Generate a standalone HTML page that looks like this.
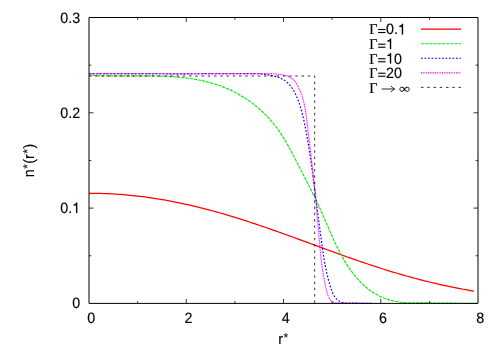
<!DOCTYPE html>
<html><head><meta charset="utf-8"><title>plot</title>
<style>
html,body{margin:0;padding:0;background:#fff;}
svg{display:block;}
text{font-family:"Liberation Sans",sans-serif;font-size:14.3px;fill:#000;text-rendering:geometricPrecision;stroke:#000;stroke-width:0.16px;}
.sym{font-family:"Liberation Serif",serif;font-size:14.3px;}
</style></head><body>
<svg width="500" height="350" viewBox="0 0 500 350">
<rect width="500" height="350" fill="#fff"/>
<g fill="none" stroke-width="1.15" stroke-linejoin="round">
<path d="M89.00,193.25 L91.43,193.26 L93.86,193.28 L96.29,193.32 L98.72,193.37 L101.16,193.43 L103.59,193.51 L106.02,193.60 L108.45,193.71 L110.88,193.83 L113.31,193.96 L115.74,194.11 L118.18,194.27 L120.61,194.45 L123.04,194.64 L125.47,194.85 L127.90,195.07 L130.33,195.30 L132.76,195.54 L135.19,195.80 L137.62,196.08 L140.06,196.37 L142.49,196.67 L144.92,196.98 L147.35,197.31 L149.78,197.65 L152.21,198.01 L154.64,198.38 L157.07,198.76 L159.51,199.15 L161.94,199.56 L164.37,199.98 L166.80,200.42 L169.23,200.86 L171.66,201.32 L174.09,201.80 L176.53,202.28 L178.96,202.78 L181.39,203.29 L183.82,203.81 L186.25,204.35 L188.68,204.89 L191.11,205.45 L193.54,206.02 L195.98,206.60 L198.41,207.19 L200.84,207.80 L203.27,208.41 L205.70,209.04 L208.13,209.68 L210.56,210.32 L212.99,210.98 L215.43,211.65 L217.86,212.33 L220.29,213.02 L222.72,213.72 L225.15,214.43 L227.58,215.14 L230.01,215.87 L232.44,216.61 L234.88,217.35 L237.31,218.11 L239.74,218.87 L242.17,219.64 L244.60,220.42 L247.03,221.20 L249.46,222.00 L251.89,222.80 L254.33,223.60 L256.76,224.42 L259.19,225.24 L261.62,226.07 L264.05,226.90 L266.48,227.74 L268.91,228.58 L271.34,229.43 L273.77,230.29 L276.21,231.15 L278.64,232.01 L281.07,232.88 L283.50,233.75 L285.93,234.62 L288.36,235.50 L290.79,236.38 L293.23,237.27 L295.66,238.15 L298.09,239.04 L300.52,239.93 L302.95,240.82 L305.38,241.71 L307.81,242.60 L310.24,243.50 L312.68,244.39 L315.11,245.28 L317.54,246.17 L319.97,247.07 L322.40,247.96 L324.83,248.85 L327.26,249.73 L329.69,250.62 L332.12,251.50 L334.56,252.38 L336.99,253.26 L339.42,254.14 L341.85,255.01 L344.28,255.88 L346.71,256.74 L349.14,257.60 L351.58,258.45 L354.01,259.30 L356.44,260.15 L358.87,260.99 L361.30,261.82 L363.73,262.65 L366.16,263.47 L368.59,264.28 L371.03,265.09 L373.46,265.89 L375.89,266.69 L378.32,267.47 L380.75,268.25 L383.18,269.02 L385.61,269.79 L388.04,270.54 L390.48,271.29 L392.91,272.03 L395.34,272.76 L397.77,273.48 L400.20,274.19 L402.63,274.89 L405.06,275.59 L407.49,276.27 L409.93,276.95 L412.36,277.61 L414.79,278.27 L417.22,278.92 L419.65,279.55 L422.08,280.18 L424.51,280.79 L426.94,281.40 L429.38,282.00 L431.81,282.58 L434.24,283.16 L436.67,283.72 L439.10,284.28 L441.53,284.82 L443.96,285.35 L446.39,285.88 L448.83,286.39 L451.26,286.90 L453.69,287.39 L456.12,287.87 L458.55,288.34 L460.98,288.81 L463.41,289.26 L465.84,289.70 L468.28,290.13 L470.71,290.56 L474.01,291.12" stroke="#ff0000" stroke-width="1.25"/>
<path d="M89.00,75.13 L90.48,75.22 L91.91,75.31 L93.35,75.39 L94.79,75.46 L96.23,75.53 L97.67,75.59 L99.12,75.65 L100.57,75.70 L102.03,75.74 L103.49,75.78 L104.95,75.81 L106.41,75.84 L107.88,75.86 L109.35,75.88 L110.82,75.90 L112.30,75.91 L113.78,75.92 L115.26,75.93 L116.74,75.93 L118.22,75.93 L119.71,75.93 L121.20,75.93 L122.69,75.93 L124.18,75.92 L125.67,75.91 L127.17,75.91 L128.67,75.90 L130.17,75.89 L131.66,75.88 L133.17,75.87 L134.67,75.87 L136.17,75.86 L137.67,75.85 L139.18,75.85 L140.68,75.85 L142.19,75.85 L143.69,75.85 L145.20,75.85 L146.71,75.86 L148.21,75.87 L149.72,75.88 L151.23,75.90 L152.73,75.92 L154.24,75.95 L155.74,75.98 L157.25,76.01 L158.75,76.05 L160.26,76.09 L161.76,76.14 L163.26,76.20 L164.77,76.26 L166.27,76.33 L167.77,76.40 L169.26,76.49 L170.76,76.58 L172.25,76.67 L173.75,76.78 L175.24,76.89 L176.73,77.01 L178.22,77.14 L179.70,77.27 L181.19,77.42 L182.67,77.58 L184.15,77.74 L185.62,77.92 L187.10,78.10 L188.57,78.30 L190.04,78.51 L191.51,78.73 L192.97,78.95 L194.43,79.20 L195.89,79.45 L197.34,79.71 L198.79,79.99 L200.24,80.28 L201.68,80.58 L203.12,80.90 L204.56,81.23 L205.99,81.57 L207.42,81.93 L208.84,82.30 L210.26,82.69 L211.68,83.09 L213.09,83.51 L214.50,83.94 L215.90,84.38 L217.30,84.85 L218.69,85.33 L220.08,85.82 L221.46,86.34 L222.84,86.87 L224.21,87.41 L225.58,87.97 L226.94,88.55 L228.30,89.15 L229.64,89.76 L230.99,90.39 L232.32,91.03 L233.65,91.69 L234.97,92.36 L236.28,93.06 L237.59,93.76 L238.88,94.48 L240.17,95.22 L241.45,95.97 L242.73,96.74 L243.99,97.52 L245.24,98.32 L246.49,99.13 L247.72,99.96 L248.95,100.80 L250.16,101.66 L251.36,102.53 L252.56,103.41 L253.74,104.31 L254.91,105.23 L256.07,106.15 L257.22,107.10 L258.36,108.05 L259.48,109.02 L260.59,110.01 L261.69,111.00 L262.78,112.01 L263.86,113.04 L264.92,114.07 L265.97,115.12 L267.00,116.19 L268.02,117.26 L269.03,118.35 L270.02,119.46 L271.00,120.57 L271.96,121.70 L272.90,122.84 L273.84,123.99 L274.75,125.16 L275.66,126.33 L276.55,127.52 L277.42,128.72 L278.28,129.93 L279.13,131.15 L279.97,132.37 L280.80,133.61 L281.61,134.86 L282.42,136.11 L283.21,137.37 L283.99,138.64 L284.77,139.92 L285.53,141.20 L286.29,142.48 L287.04,143.78 L287.78,145.08 L288.52,146.38 L289.24,147.69 L289.96,149.00 L290.68,150.31 L291.39,151.63 L292.09,152.95 L292.79,154.27 L293.49,155.60 L294.18,156.92 L294.87,158.25 L295.56,159.58 L296.25,160.90 L296.93,162.23 L297.61,163.55 L298.29,164.88 L298.97,166.20 L299.65,167.52 L300.33,168.84 L301.01,170.16 L301.69,171.48 L302.36,172.80 L303.04,174.11 L303.71,175.43 L304.39,176.75 L305.06,178.06 L305.73,179.38 L306.40,180.69 L307.06,182.01 L307.73,183.33 L308.39,184.64 L309.05,185.96 L309.71,187.28 L310.37,188.59 L311.03,189.91 L311.68,191.23 L312.33,192.55 L312.98,193.88 L313.63,195.20 L314.27,196.53 L314.92,197.85 L315.56,199.18 L316.19,200.52 L316.83,201.85 L317.46,203.18 L318.09,204.52 L318.71,205.86 L319.34,207.20 L319.96,208.55 L320.57,209.90 L321.19,211.25 L321.80,212.61 L322.41,213.96 L323.01,215.32 L323.61,216.69 L324.21,218.05 L324.81,219.42 L325.40,220.79 L326.00,222.17 L326.59,223.54 L327.19,224.91 L327.78,226.29 L328.38,227.66 L328.97,229.04 L329.57,230.41 L330.17,231.78 L330.77,233.16 L331.38,234.53 L331.99,235.90 L332.60,237.26 L333.22,238.63 L333.84,239.99 L334.46,241.35 L335.10,242.71 L335.73,244.06 L336.38,245.41 L337.03,246.75 L337.69,248.09 L338.35,249.42 L339.03,250.75 L339.71,252.07 L340.40,253.39 L341.10,254.70 L341.81,256.00 L342.54,257.30 L343.27,258.59 L344.01,259.87 L344.77,261.14 L345.53,262.41 L346.31,263.67 L347.10,264.91 L347.91,266.15 L348.73,267.38 L349.56,268.60 L350.41,269.81 L351.27,271.01 L352.15,272.19 L353.05,273.37 L353.96,274.53 L354.89,275.69 L355.83,276.83 L356.79,277.95 L357.77,279.06 L358.77,280.16 L359.78,281.24 L360.81,282.30 L361.86,283.35 L362.93,284.37 L364.01,285.37 L365.11,286.36 L366.23,287.32 L367.36,288.26 L368.52,289.17 L369.69,290.06 L370.87,290.92 L372.08,291.76 L373.30,292.57 L374.54,293.35 L375.80,294.10 L377.08,294.82 L378.38,295.51 L379.69,296.16 L381.02,296.79 L382.37,297.37 L383.73,297.93 L385.12,298.45 L386.51,298.94 L387.92,299.40 L389.34,299.83 L390.78,300.23 L392.23,300.59 L393.68,300.93 L395.15,301.24 L396.62,301.52 L398.10,301.78 L399.59,302.01 L401.09,302.21 L402.58,302.39 L404.09,302.54 L405.59,302.66 L407.10,302.77 L408.60,302.84 L410.11,302.90 L411.62,302.94 L413.12,302.95 L414.62,302.94 L416.12,302.91 L417.61,302.87 L419.10,302.80 L478.00,303.45" stroke="#00f000" stroke-dasharray="3.2 1"/>
<path d="M89.00,73.60 L90.46,73.60 L91.92,73.60 L93.38,73.60 L94.84,73.60 L96.29,73.60 L97.75,73.60 L99.21,73.60 L100.66,73.60 L102.12,73.60 L103.58,73.60 L105.03,73.60 L106.49,73.60 L107.94,73.60 L109.40,73.60 L110.85,73.60 L112.31,73.60 L113.76,73.60 L115.22,73.60 L116.67,73.60 L118.12,73.60 L119.58,73.60 L121.03,73.60 L122.48,73.60 L123.94,73.60 L125.39,73.60 L126.84,73.60 L128.29,73.60 L129.75,73.60 L131.20,73.60 L132.65,73.60 L134.10,73.60 L135.55,73.60 L137.01,73.60 L138.46,73.60 L139.91,73.60 L141.36,73.60 L142.81,73.60 L144.26,73.60 L145.71,73.60 L147.17,73.60 L148.62,73.60 L150.07,73.60 L151.52,73.61 L152.97,73.63 L154.42,73.65 L155.87,73.67 L157.32,73.70 L158.78,73.72 L160.23,73.73 L161.68,73.75 L163.13,73.77 L164.58,73.79 L166.04,73.80 L167.49,73.82 L168.94,73.83 L170.39,73.84 L171.84,73.85 L173.30,73.86 L174.75,73.87 L176.20,73.88 L177.66,73.88 L179.11,73.88 L180.56,73.88 L182.02,73.88 L183.47,73.88 L184.93,73.87 L186.38,73.86 L187.84,73.85 L189.29,73.84 L190.75,73.82 L192.20,73.80 L193.66,73.78 L195.11,73.76 L196.57,73.73 L198.03,73.70 L199.48,73.66 L200.94,73.63 L202.40,73.60 L203.86,73.60 L205.32,73.60 L206.78,73.60 L208.23,73.60 L209.69,73.60 L211.15,73.60 L212.61,73.60 L214.07,73.60 L215.53,73.60 L216.99,73.60 L218.45,73.60 L219.91,73.60 L221.37,73.60 L222.83,73.60 L224.28,73.60 L225.74,73.60 L227.20,73.60 L228.66,73.60 L230.12,73.60 L231.57,73.60 L233.03,73.60 L234.49,73.60 L235.94,73.60 L237.40,73.60 L238.85,73.60 L240.31,73.60 L241.76,73.60 L243.21,73.60 L244.67,73.60 L246.12,73.60 L247.57,73.60 L249.02,73.60 L250.47,73.60 L251.92,73.60 L253.37,73.60 L254.81,73.60 L256.26,73.60 L257.70,73.61 L259.15,73.76 L260.59,73.91 L262.03,74.07 L263.47,74.25 L264.91,74.44 L266.35,74.65 L267.78,74.87 L269.22,75.10 L270.65,75.35 L272.07,75.63 L273.49,75.94 L274.89,76.28 L276.27,76.66 L277.64,77.09 L278.98,77.56 L280.29,78.09 L281.58,78.68 L282.83,79.34 L284.05,80.07 L285.22,80.87 L286.36,81.75 L287.45,82.71 L288.50,83.74 L289.51,84.82 L290.47,85.95 L291.37,87.12 L292.23,88.32 L293.03,89.53 L293.78,90.77 L294.48,92.02 L295.14,93.29 L295.76,94.57 L296.35,95.87 L296.91,97.17 L297.45,98.50 L297.96,99.83 L298.46,101.17 L298.94,102.52 L299.40,103.88 L299.85,105.25 L300.28,106.62 L300.70,108.01 L301.10,109.40 L301.49,110.80 L301.87,112.20 L302.24,113.61 L302.59,115.02 L302.94,116.43 L303.27,117.85 L303.60,119.28 L303.92,120.70 L304.23,122.13 L304.53,123.56 L304.83,124.99 L305.12,126.42 L305.41,127.85 L305.69,129.28 L305.96,130.71 L306.23,132.14 L306.50,133.57 L306.76,135.00 L307.01,136.43 L307.27,137.86 L307.51,139.29 L307.76,140.72 L308.00,142.15 L308.23,143.59 L308.46,145.02 L308.69,146.45 L308.92,147.88 L309.14,149.31 L309.36,150.74 L309.58,152.17 L309.80,153.60 L310.01,155.03 L310.22,156.46 L310.43,157.89 L310.64,159.32 L310.84,160.75 L311.04,162.18 L311.25,163.60 L311.45,165.03 L311.64,166.46 L311.84,167.89 L312.04,169.32 L312.23,170.75 L312.43,172.17 L312.62,173.60 L312.81,175.03 L313.00,176.46 L313.19,177.89 L313.38,179.32 L313.57,180.75 L313.76,182.18 L313.95,183.61 L314.13,185.04 L314.32,186.47 L314.51,187.90 L314.69,189.33 L314.88,190.76 L315.06,192.20 L315.25,193.63 L315.44,195.07 L315.62,196.50 L315.81,197.94 L315.99,199.38 L316.18,200.81 L316.37,202.25 L316.55,203.69 L316.74,205.13 L316.93,206.57 L317.12,208.01 L317.30,209.45 L317.49,210.89 L317.68,212.33 L317.87,213.77 L318.06,215.22 L318.24,216.66 L318.43,218.10 L318.62,219.54 L318.81,220.99 L319.00,222.43 L319.19,223.87 L319.37,225.31 L319.56,226.76 L319.75,228.20 L319.94,229.64 L320.13,231.09 L320.32,232.53 L320.51,233.97 L320.70,235.41 L320.88,236.85 L321.07,238.29 L321.26,239.74 L321.45,241.18 L321.65,242.62 L321.84,244.05 L322.04,245.49 L322.24,246.93 L322.44,248.37 L322.64,249.81 L322.85,251.24 L323.06,252.68 L323.28,254.11 L323.51,255.55 L323.73,256.98 L323.97,258.41 L324.21,259.84 L324.45,261.27 L324.71,262.70 L324.97,264.13 L325.24,265.55 L325.52,266.98 L325.80,268.40 L326.10,269.83 L326.40,271.25 L326.71,272.67 L327.04,274.09 L327.37,275.51 L327.72,276.92 L328.07,278.34 L328.44,279.75 L328.82,281.16 L329.22,282.57 L329.62,283.98 L330.04,285.39 L330.47,286.79 L330.92,288.19 L331.38,289.59 L331.88,290.98 L332.40,292.34 L332.98,293.66 L333.60,294.94 L334.30,296.16 L335.07,297.32 L335.92,298.40 L336.87,299.39 L337.93,300.29 L339.10,301.07 L340.40,301.74 L341.83,302.28 L343.40,302.69 L345.13,302.94 L372.00,303.45" stroke="#0000ff" stroke-dasharray="1.8 1.7"/>
<path d="M89.00,73.60 L90.46,73.60 L91.93,73.60 L93.39,73.60 L94.85,73.60 L96.32,73.60 L97.78,73.60 L99.24,73.60 L100.71,73.60 L102.17,73.60 L103.63,73.60 L105.10,73.60 L106.56,73.60 L108.03,73.60 L109.49,73.60 L110.95,73.60 L112.42,73.60 L113.88,73.60 L115.35,73.60 L116.81,73.60 L118.27,73.60 L119.74,73.60 L121.20,73.60 L122.67,73.60 L124.13,73.60 L125.59,73.60 L127.06,73.60 L128.52,73.60 L129.99,73.60 L131.45,73.60 L132.91,73.60 L134.38,73.60 L135.84,73.60 L137.31,73.60 L138.77,73.60 L140.23,73.60 L141.70,73.60 L143.16,73.60 L144.63,73.60 L146.09,73.60 L147.55,73.60 L149.02,73.60 L150.48,73.60 L151.95,73.61 L153.41,73.63 L154.87,73.65 L156.34,73.68 L157.80,73.70 L159.26,73.72 L160.73,73.74 L162.19,73.76 L163.66,73.78 L165.12,73.80 L166.58,73.81 L168.05,73.83 L169.51,73.84 L170.97,73.86 L172.44,73.87 L173.90,73.88 L175.36,73.88 L176.83,73.89 L178.29,73.89 L179.75,73.90 L181.21,73.90 L182.68,73.89 L184.14,73.89 L185.60,73.88 L187.07,73.87 L188.53,73.86 L189.99,73.85 L191.45,73.83 L192.92,73.81 L194.38,73.79 L195.84,73.76 L197.30,73.74 L198.76,73.70 L200.23,73.67 L201.69,73.63 L203.15,73.60 L204.61,73.60 L206.07,73.60 L207.54,73.60 L209.00,73.60 L210.46,73.60 L211.92,73.60 L213.38,73.60 L214.84,73.60 L216.31,73.60 L217.77,73.60 L219.23,73.60 L220.69,73.60 L222.15,73.60 L223.62,73.60 L225.08,73.60 L226.54,73.60 L228.00,73.60 L229.47,73.60 L230.93,73.60 L232.39,73.60 L233.86,73.60 L235.32,73.60 L236.78,73.60 L238.25,73.60 L239.71,73.60 L241.18,73.60 L242.64,73.60 L244.11,73.60 L245.57,73.60 L247.04,73.60 L248.50,73.60 L249.97,73.60 L251.44,73.60 L252.90,73.60 L254.37,73.60 L255.84,73.60 L257.31,73.60 L258.78,73.60 L260.25,73.60 L261.72,73.60 L263.19,73.60 L264.66,73.60 L266.13,73.60 L267.60,73.60 L269.07,73.60 L270.54,73.60 L272.02,73.60 L273.49,73.72 L274.97,73.89 L276.44,74.07 L277.92,74.26 L279.39,74.46 L280.87,74.67 L282.34,74.91 L283.80,75.17 L285.23,75.48 L286.63,75.86 L287.98,76.30 L289.28,76.83 L290.51,77.47 L291.67,78.21 L292.74,79.08 L293.74,80.07 L294.66,81.14 L295.52,82.29 L296.32,83.50 L297.08,84.74 L297.79,86.00 L298.47,87.27 L299.11,88.57 L299.72,89.88 L300.29,91.20 L300.83,92.54 L301.34,93.90 L301.82,95.26 L302.27,96.64 L302.69,98.03 L303.09,99.44 L303.47,100.85 L303.82,102.27 L304.15,103.70 L304.46,105.14 L304.75,106.58 L305.03,108.04 L305.28,109.50 L305.53,110.96 L305.76,112.43 L305.98,113.90 L306.19,115.37 L306.39,116.85 L306.58,118.33 L306.77,119.81 L306.95,121.28 L307.12,122.76 L307.30,124.24 L307.48,125.71 L307.65,127.18 L307.83,128.65 L308.00,130.12 L308.18,131.58 L308.35,133.05 L308.53,134.51 L308.70,135.96 L308.88,137.42 L309.05,138.87 L309.23,140.33 L309.40,141.78 L309.58,143.23 L309.75,144.68 L309.92,146.12 L310.09,147.57 L310.27,149.01 L310.44,150.46 L310.61,151.90 L310.78,153.34 L310.95,154.79 L311.12,156.23 L311.28,157.67 L311.45,159.11 L311.62,160.55 L311.78,161.99 L311.95,163.43 L312.11,164.88 L312.27,166.32 L312.44,167.76 L312.60,169.20 L312.76,170.64 L312.91,172.09 L313.07,173.53 L313.23,174.98 L313.38,176.43 L313.54,177.87 L313.69,179.32 L313.84,180.77 L313.99,182.22 L314.14,183.67 L314.29,185.12 L314.43,186.57 L314.58,188.02 L314.72,189.48 L314.87,190.93 L315.01,192.39 L315.15,193.84 L315.29,195.30 L315.43,196.75 L315.57,198.21 L315.71,199.67 L315.85,201.12 L315.99,202.58 L316.12,204.04 L316.26,205.50 L316.39,206.96 L316.53,208.42 L316.66,209.88 L316.79,211.34 L316.93,212.80 L317.06,214.26 L317.19,215.72 L317.32,217.18 L317.45,218.64 L317.58,220.10 L317.71,221.56 L317.84,223.02 L317.97,224.48 L318.10,225.94 L318.22,227.41 L318.35,228.87 L318.48,230.33 L318.60,231.79 L318.73,233.25 L318.86,234.71 L318.98,236.17 L319.11,237.63 L319.24,239.09 L319.36,240.55 L319.49,242.01 L319.62,243.47 L319.75,244.93 L319.88,246.39 L320.02,247.85 L320.15,249.31 L320.29,250.77 L320.43,252.22 L320.58,253.68 L320.73,255.13 L320.89,256.59 L321.05,258.04 L321.21,259.50 L321.38,260.95 L321.56,262.40 L321.74,263.85 L321.93,265.30 L322.12,266.75 L322.32,268.20 L322.53,269.64 L322.75,271.09 L322.97,272.53 L323.21,273.98 L323.45,275.42 L323.70,276.86 L323.96,278.30 L324.23,279.74 L324.51,281.18 L324.80,282.61 L325.10,284.04 L325.41,285.48 L325.74,286.91 L326.07,288.34 L326.42,289.76 L326.78,291.19 L327.16,292.61 L327.56,294.03 L328.00,295.41 L328.51,296.74 L329.12,298.01 L329.83,299.19 L330.69,300.26 L331.70,301.21 L332.89,302.01 L334.29,302.65 L335.91,303.11 L372.00,303.45" stroke="#ff00ff" stroke-dasharray="1 0.75"/>
<path d="M89.0,76.00 H314.70 V303.4" stroke="#000" stroke-width="0.8" stroke-dasharray="2.5 3.75"/>
<path d="M421,29.1 H461" stroke="#ff0000"/>
<path d="M421,43.7 H461" stroke="#00f000" stroke-dasharray="3.2 1"/>
<path d="M421,58.2 H461" stroke="#0000ff" stroke-dasharray="1.8 1.7"/>
<path d="M421,72.8 H461" stroke="#ff00ff" stroke-dasharray="1 0.75"/>
<path d="M421,87.4 H461" stroke="#000" stroke-width="0.8" stroke-dasharray="2.5 3.75"/>
</g>
<g fill="none" stroke="#000" stroke-width="1">
<path d="M89.0,17.5 H478.0 V303.4 H89.0 Z"/>
<path d="M137.62,303.4 v-2.3 M137.62,17.5 v2.3 M186.25,303.4 v-4.5 M186.25,17.5 v4.5 M234.88,303.4 v-2.3 M234.88,17.5 v2.3 M283.50,303.4 v-4.5 M283.50,17.5 v4.5 M332.12,303.4 v-2.3 M332.12,17.5 v2.3 M380.75,303.4 v-4.5 M380.75,17.5 v4.5 M429.38,303.4 v-2.3 M429.38,17.5 v2.3 M89.0,255.75 h2.3 M478.0,255.75 h-2.3 M89.0,208.10 h4.5 M478.0,208.10 h-4.5 M89.0,160.45 h2.3 M478.0,160.45 h-2.3 M89.0,112.80 h4.5 M478.0,112.80 h-4.5 M89.0,65.15 h2.3 M478.0,65.15 h-2.3" stroke-width="0.8"/>
</g>
<g style="opacity:0.999">
<text transform="translate(91.25,323.00) scale(1,1.05)" text-anchor="middle">0</text><text transform="translate(188.50,323.00) scale(1,1.05)" text-anchor="middle">2</text><text transform="translate(285.75,323.00) scale(1,1.05)" text-anchor="middle">4</text><text transform="translate(383.00,323.00) scale(1,1.05)" text-anchor="middle">6</text><text transform="translate(480.25,323.00) scale(1,1.05)" text-anchor="middle">8</text>
<text transform="translate(80.10,307.90) scale(1,1.05)" text-anchor="end">0</text><g transform="translate(80.10,213.00)"><text transform="translate(-19.88,0) scale(1,1.05)">0.</text><path transform="translate(-7.95,0) scale(0.01430,0.01502)" d="M359,0 L359,-703 L300,-703 Q280,-592 101,-560 L101,-497 L273,-497 L273,0 Z" stroke="#000" stroke-width="11"/></g><text transform="translate(80.10,117.70) scale(1,1.05)" text-anchor="end">0.2</text><text transform="translate(80.10,22.80) scale(1,1.05)" text-anchor="end">0.3</text>
<text transform="translate(369.20,34.40) scale(1,1.05)" text-anchor="start" class="sym">Γ</text><g transform="translate(377.65,34.40)"><path transform="translate(0.00,0) scale(0.01430,0.01502)" d="M39,-88 H545 V-153 H39 Z M39,-288 H545 V-353 H39 Z" stroke="#000" stroke-width="11"/><text transform="translate(8.35,0) scale(1,1.05)">0.</text><path transform="translate(20.28,0) scale(0.01430,0.01502)" d="M359,0 L359,-703 L300,-703 Q280,-592 101,-560 L101,-497 L273,-497 L273,0 Z" stroke="#000" stroke-width="11"/></g><text transform="translate(369.20,49.00) scale(1,1.05)" text-anchor="start" class="sym">Γ</text><g transform="translate(377.65,49.00)"><path transform="translate(0.00,0) scale(0.01430,0.01502)" d="M39,-88 H545 V-153 H39 Z M39,-288 H545 V-353 H39 Z" stroke="#000" stroke-width="11"/><path transform="translate(8.35,0) scale(0.01430,0.01502)" d="M359,0 L359,-703 L300,-703 Q280,-592 101,-560 L101,-497 L273,-497 L273,0 Z" stroke="#000" stroke-width="11"/></g><text transform="translate(369.20,63.50) scale(1,1.05)" text-anchor="start" class="sym">Γ</text><g transform="translate(377.65,63.50)"><path transform="translate(0.00,0) scale(0.01430,0.01502)" d="M39,-88 H545 V-153 H39 Z M39,-288 H545 V-353 H39 Z" stroke="#000" stroke-width="11"/><path transform="translate(8.35,0) scale(0.01430,0.01502)" d="M359,0 L359,-703 L300,-703 Q280,-592 101,-560 L101,-497 L273,-497 L273,0 Z" stroke="#000" stroke-width="11"/><text transform="translate(16.30,0) scale(1,1.05)">0</text></g><text transform="translate(369.20,78.10) scale(1,1.05)" text-anchor="start" class="sym">Γ</text><g transform="translate(377.65,78.10)"><path transform="translate(0.00,0) scale(0.01430,0.01502)" d="M39,-88 H545 V-153 H39 Z M39,-288 H545 V-353 H39 Z" stroke="#000" stroke-width="11"/><text transform="translate(8.35,0) scale(1,1.05)">20</text></g><text transform="translate(369.20,92.70) scale(1,1.05)" text-anchor="start" class="sym">Γ</text><text transform="translate(399.0,93.00) scale(1.08,0.9)" class="sym">∞</text>
<g transform="translate(283.50,344.00)"><text transform="translate(-5.16,0) scale(1,1.05)">r</text><path transform="translate(-0.40,0) scale(0.01430,0.01502)" d="M208,-572 L218,-722 L170,-722 L180,-572 Z M198,-586 L59,-641 L44,-596 L190,-558 Z M182,-580 L86,-465 L125,-437 L206,-564 Z M182,-564 L263,-437 L302,-465 L206,-580 Z M198,-558 L344,-596 L329,-641 L190,-586 Z " stroke="#000" stroke-width="11"/></g>
<g transform="translate(34.00,160.50) rotate(-90)"><text transform="translate(-16.68,0) scale(1,1.05)">n</text><path transform="translate(-8.73,0) scale(0.01430,0.01502)" d="M208,-572 L218,-722 L170,-722 L180,-572 Z M198,-586 L59,-641 L44,-596 L190,-558 Z M182,-580 L86,-465 L125,-437 L206,-564 Z M182,-564 L263,-437 L302,-465 L206,-580 Z M198,-558 L344,-596 L329,-641 L190,-586 Z " stroke="#000" stroke-width="11"/><text transform="translate(-3.17,0) scale(1,1.05)">(r</text><path transform="translate(6.36,0) scale(0.01430,0.01502)" d="M208,-572 L218,-722 L170,-722 L180,-572 Z M198,-586 L59,-641 L44,-596 L190,-558 Z M182,-580 L86,-465 L125,-437 L206,-564 Z M182,-564 L263,-437 L302,-465 L206,-580 Z M198,-558 L344,-596 L329,-641 L190,-586 Z " stroke="#000" stroke-width="11"/><text transform="translate(11.92,0) scale(1,1.05)">)</text></g>
</g>
<path d="M381.6,89.0 H394.4 M390.9,85.9 Q392.2,87.8 394.7,89.0 Q392.2,90.2 390.9,92.1" fill="none" stroke="#000" stroke-width="0.85"/>
</svg>
</body></html>
